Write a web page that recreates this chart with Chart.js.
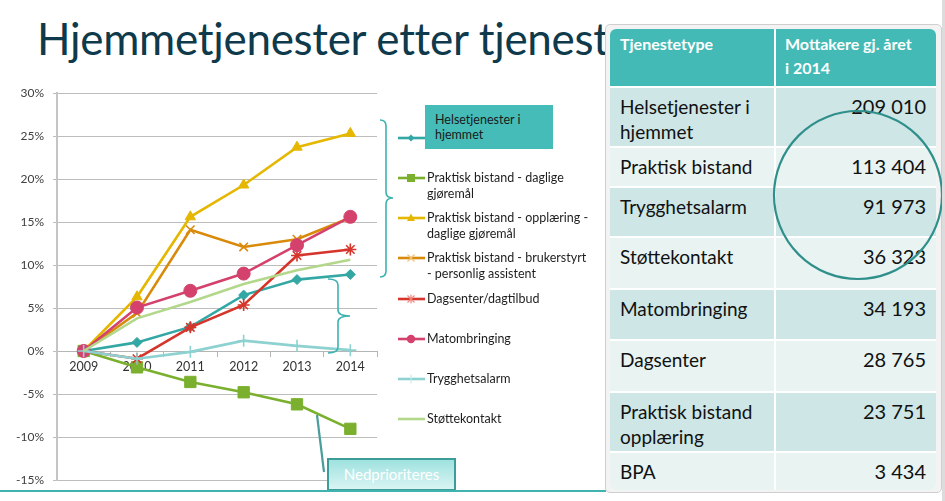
<!DOCTYPE html>
<html>
<head>
<meta charset="utf-8">
<script src="https://cdn.jsdelivr.net/npm/chart.js@4.4.1/dist/chart.umd.min.js"></script>
<style>
  body { margin: 0; width: 945px; height: 501px; overflow: hidden; background: #fff; position: relative; font-family: Lato, "Liberation Sans", sans-serif; }
  #title { position: absolute; left: 37px; top: 12px; font-size: 44px; color: #0e3a4c; white-space: nowrap; letter-spacing: -0.3px; }
  #chart { position: absolute; left: 0; top: 0; }
  #overlay { position: absolute; left: 0; top: 0; }
  .leg { position: absolute; left: 427px; font-size: 12.5px; line-height: 16px; color: #1e1e1e; white-space: nowrap; }
  #callout1 { position: absolute; left: 425px; top: 105px; width: 118px; height: 44px; padding-left: 10px; box-sizing: content-box;
              background: #45bcb8; font-size: 12.5px; line-height: 15px; color: #1a1a1a; display: flex; align-items: center; }
  #callout2 { position: absolute; left: 327px; top: 458px; width: 125px; height: 29px; border: 2px solid #3d9c98;
              background: linear-gradient(#9fe2df, #d9f4f3); color: #fff; font-size: 15px; text-align: center; line-height: 29px; }
  #bottomline { position: absolute; left: 0; top: 490px; width: 606px; height: 2px; background: #41b3af; }
  #frame { position: absolute; left: 605px; top: 24px; width: 335px; height: 467px; border: 1px solid #cfcfcf; border-radius: 5px; background: #f3f3f3; }
  #table { position: absolute; left: 610px; top: 29px; width: 326px; height: 461px; border-radius: 6px; overflow: hidden; background: #fff; }
  .cell { position: absolute; box-sizing: border-box; color: #111; font-size: 19px; line-height: 25px; padding-top: 6px; }
  .num { font-size: 20px; }
  .hdr { color: #fff; font-weight: bold; font-size: 16px; line-height: 24px; padding-top: 3px; }
  #edge { position: absolute; left: 942px; top: 0; width: 3px; height: 501px; background: #dcdcdc; }
</style>
</head>
<body>
<div id="title">Hjemmetjenester etter tjenestetype</div>
<canvas id="chart" width="390" height="501"></canvas>
<svg id="overlay" width="605" height="501"></svg>
<div id="legend"></div>
<div id="callout1">Helsetjenester i<br>hjemmet</div>
<div id="callout2">Nedprioriteres</div>
<div id="bottomline"></div>
<div id="frame"></div>
<div id="table"></div>
<svg id="circle" width="945" height="501" style="position:absolute;left:0;top:0;pointer-events:none">
  <circle cx="858" cy="195" r="84" fill="none" stroke="#2f8f8b" stroke-width="2.2"/>
</svg>
<div id="edge"></div>
<script>
// år
var years = ['2009', '2010', '2011', '2012', '2013', '2014'];

// endring fra 2009, prosent
var helsetjenester = [0, 1.0, 2.8, 6.5, 8.3, 8.9];
var praktiskDaglige = [0, -1.9, -3.6, -4.8, -6.2, -9.05];
var praktiskOpplaering = [0, 6.3, 15.6, 19.3, 23.7, 25.3];
var praktiskBrukerstyrt = [0, 4.4, 14.1, 12.1, 13.0, 15.5];
var dagsenter = [0, -0.9, 2.75, 5.35, 11.1, 11.8];
var matombringing = [0, 5.05, 7.0, 9.0, 12.3, 15.6];
var trygghetsalarm = [0, -0.9, -0.1, 1.2, 0.6, 0.1];
var stottekontakt = [0, 3.8, 5.7, 7.8, 9.4, 10.6];

var yTicks = [-15, -10, -5, 0, 5, 10, 15, 20, 25, 30];

// tabell
var tableHeader = ['Tjenestetype', 'Mottakere gj. året i 2014'];
var serviceTypes = ['Helsetjenester i hjemmet', 'Praktisk bistand', 'Trygghetsalarm', 'Støttekontakt',
                    'Matombringing', 'Dagsenter', 'Praktisk bistand opplæring', 'BPA'];
var recipients2014 = ['209 010', '113 404', '91 973', '36 323', '34 193', '28 765', '23 751', '3 434'];

var series = [
  { label: 'Helsetjenester i hjemmet', legend: ['Helsetjenester i', 'hjemmet'], data: helsetjenester, color: '#33a7a3', style: 'rectRot', radius: 5, legY: 138 },
  { label: 'Praktisk bistand - daglige gjøremål', legend: ['Praktisk bistand - daglige', 'gjøremål'], data: praktiskDaglige, color: '#7ab02e', style: 'rect', radius: 8, legY: 178 },
  { label: 'Praktisk bistand - opplæring - daglige gjøremål', legend: ['Praktisk bistand - opplæring -', 'daglige gjøremål'], data: praktiskOpplaering, color: '#e5b700', style: 'triangle', radius: 6, legY: 218 },
  { label: 'Praktisk bistand - brukerstyrt - personlig assistent', legend: ['Praktisk bistand - brukerstyrt', '- personlig assistent'], data: praktiskBrukerstyrt, color: '#d98a0b', style: 'crossRot', radius: 6, legY: 258 },
  { label: 'Dagsenter/dagtilbud', legend: ['Dagsenter/dagtilbud'], data: dagsenter, color: '#d5352b', style: 'star', radius: 6, legY: 299 },
  { label: 'Matombringing', legend: ['Matombringing'], data: matombringing, color: '#d4416d', style: 'circle', radius: 6.5, legY: 339 },
  { label: 'Trygghetsalarm', legend: ['Trygghetsalarm'], data: trygghetsalarm, color: '#8dd2d0', style: 'cross', radius: 6, legY: 379 },
  { label: 'Støttekontakt', legend: ['Støttekontakt'], data: stottekontakt, color: '#b3d78b', style: false, radius: 0, legY: 419 }
];

var datasets = series.map(function (s, i) {
  return {
    label: s.label,
    data: s.data,
    borderColor: s.color,
    backgroundColor: s.color,
    borderWidth: 2.6,
    pointStyle: s.style,
    pointRadius: s.radius,
    pointBorderWidth: (s.style === 'crossRot' || s.style === 'star' || s.style === 'cross') ? 1.6 : 1,
    pointBorderColor: s.color,
    pointBackgroundColor: s.color,
    tension: 0,
    order: series.length - i
  };
});

var ctx = document.getElementById('chart').getContext('2d');
new Chart(ctx, {
  type: 'line',
  data: { labels: years, datasets: datasets },
  options: {
    responsive: false,
    devicePixelRatio: 1,
    animation: false,
    layout: { padding: { top: 93, bottom: 21, left: 0, right: 13 } },
    plugins: { legend: { display: false }, tooltip: { enabled: false } },
    scales: {
      x: {
        position: { y: 0 },
        offset: true,
        afterFit: function (scale) { scale.height = 0; },
        grid: { display: true, drawOnChartArea: false, offset: true, tickLength: 5, color: '#b5b5b5' },
        border: { display: true, color: '#b5b5b5', width: 1 },
        ticks: { color: '#333', font: { family: 'Lato', size: 12.5 }, padding: 3, maxRotation: 0 }
      },
      y: {
        min: -15,
        max: 30,
        afterFit: function (scale) { scale.width = 57; },
        afterBuildTicks: function (scale) { scale.ticks = yTicks.map(function (v) { return { value: v }; }); },
        grid: { color: '#bdbdbd', tickLength: 4 },
        border: { color: '#c4c4c4', width: 2 },
        ticks: { color: '#404040', font: { family: 'Lato', size: 12 }, padding: 9,
                 callback: function (v) { return v + '%'; } }
      }
    }
  }
});

// brakett og forbindelseslinje
var svg = document.getElementById('overlay');
svg.innerHTML =
  '<path d="M380,120 Q386,120 386,126 L386,192 Q386,198 393,198 Q386,198 386,204 L386,271 Q386,277 380,277" fill="none" stroke="#3bb3af" stroke-width="1.6"/>' +
  '<path d="M328,279 Q338,279 338,285 L338,310 Q338,316 350,316 Q338,316 338,322 L338,347 Q338,353 328,353" fill="none" stroke="#3bb3af" stroke-width="1.6"/>' +
  '<line x1="317" y1="415" x2="324" y2="472" stroke="#4a9d9a" stroke-width="2.2"/>';

// legend
function markerSvg(s) {
  var c = s.color, m = '';
  if (s.style === 'rectRot') m = '<path d="M13,3.5 L16.5,7 L13,10.5 L9.5,7 Z" fill="' + c + '"/>';
  if (s.style === 'rect') m = '<rect x="9" y="3" width="8" height="8" fill="' + c + '"/>';
  if (s.style === 'triangle') m = '<path d="M13,2.5 L17,10 L9,10 Z" fill="' + c + '"/>';
  if (s.style === 'crossRot') m = '<path d="M9.5,3.5 L16.5,10.5 M16.5,3.5 L9.5,10.5" stroke="#f0c27a" stroke-width="1.2"/>';
  if (s.style === 'star') m = '<path d="M9.5,3.5 L16.5,10.5 M16.5,3.5 L9.5,10.5 M13,2.5 L13,11.5" stroke="#ee8a84" stroke-width="1.2"/>';
  if (s.style === 'circle') m = '<circle cx="13" cy="7" r="4.2" fill="' + c + '"/>';
  if (s.style === 'cross') m = '<path d="M13,2.5 L13,11.5" stroke="#c9ecea" stroke-width="1.2"/>';
  return '<svg width="27" height="14" style="position:absolute;left:398px;top:' + (s.legY - 7) + 'px">' +
         '<line x1="0" y1="7" x2="27" y2="7" stroke="' + c + '" stroke-width="2.6"/>' + m + '</svg>';
}
var legHtml = '';
series.forEach(function (s, i) {
  legHtml += markerSvg(s);
  if (i > 0) legHtml += '<div class="leg" style="top:' + (s.legY - 8) + 'px">' + s.legend.join('<br>') + '</div>';
});
document.getElementById('legend').innerHTML = legHtml;

// tabell
var rowTops = [0, 59, 119, 159, 209, 261, 312, 364, 424, 461];
var tbl = document.getElementById('table');
var html = '';
for (var r = 0; r < rowTops.length - 1; r++) {
  var rowY = rowTops[r];
  var rowH = rowTops[r + 1] - rowTops[r] - (r < rowTops.length - 2 ? 2 : 0);
  var bg = r === 0 ? '#44bab6' : (r % 2 === 1 ? '#cee6e5' : '#e8f3f2');
  var cls = r === 0 ? 'cell hdr' : 'cell';
  var leftText = r === 0 ? tableHeader[0] :
    serviceTypes[r - 1].replace('Helsetjenester i ', 'Helsetjenester i<br>').replace('bistand opplæring', 'bistand<br>opplæring');
  var rightText = r === 0 ? tableHeader[1].replace(' i 2014', '<br>i 2014') : recipients2014[r - 1];
  html += '<div class="' + cls + '" style="left:0;top:' + rowY + 'px;width:164px;height:' + rowH + 'px;background:' + bg + ';padding-left:10px">' + leftText + '</div>';
  html += '<div class="' + cls + (r === 0 ? '' : ' num') + '" style="left:166px;top:' + rowY + 'px;width:160px;height:' + rowH + 'px;background:' + bg + ';' +
          (r === 0 ? 'padding-left:9px' : 'text-align:right;padding-right:10px') + '">' + rightText + '</div>';
}
tbl.innerHTML = html;
</script>
</body>
</html>
